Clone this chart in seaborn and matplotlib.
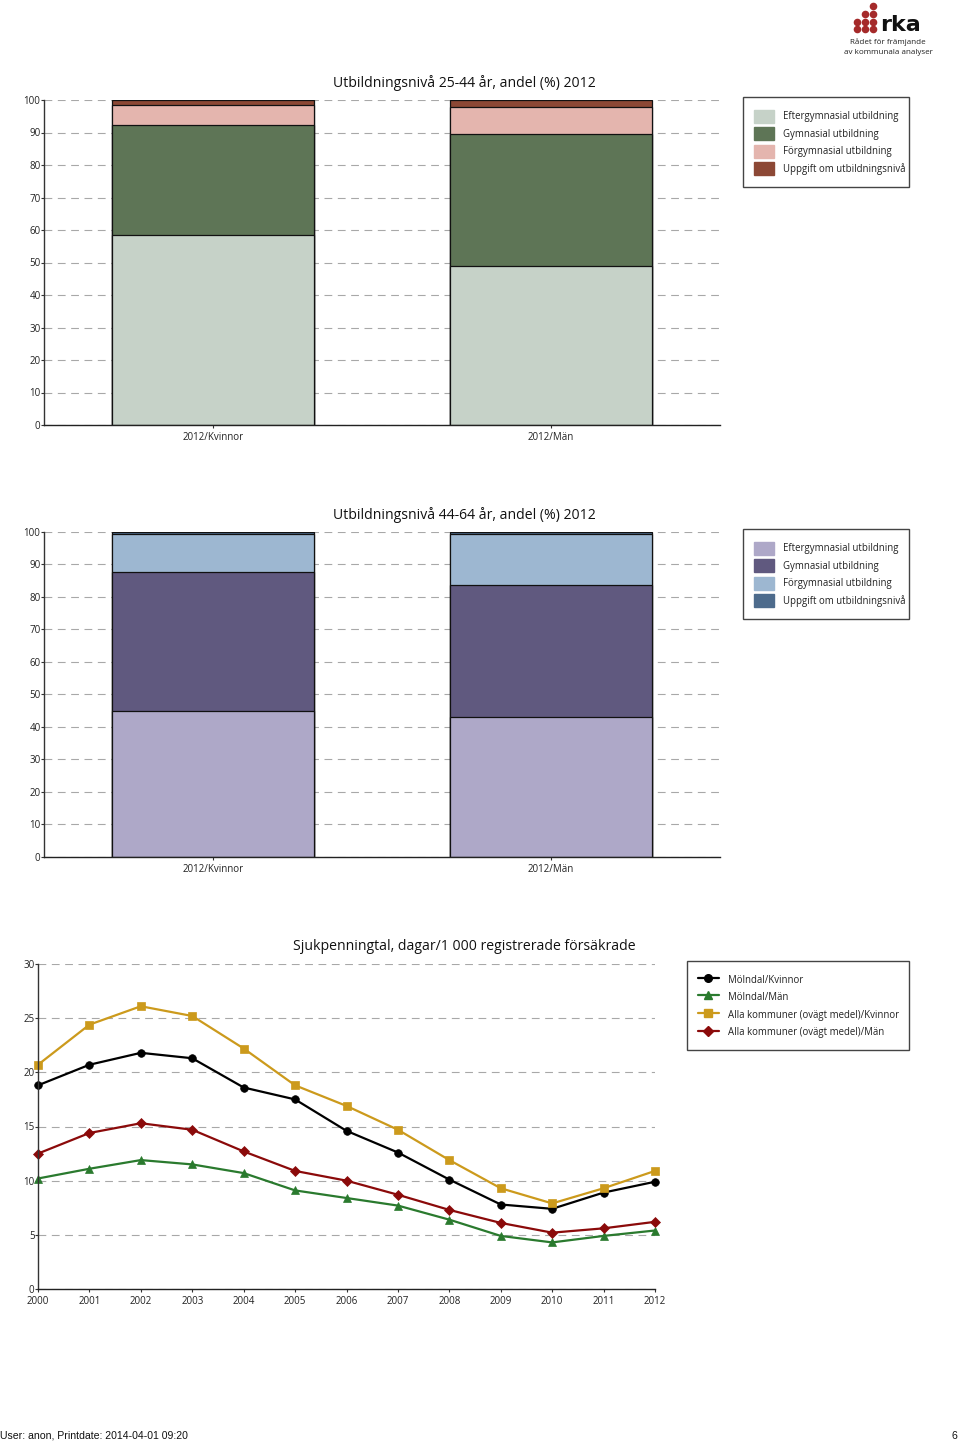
import matplotlib
matplotlib.use("Agg")
import matplotlib.pyplot as plt
from matplotlib.patches import Patch
from matplotlib.lines import Line2D
import seaborn as sns

W, H = 960, 1442

# Stacked bars, share in percent
bar_cats = ["2012/Kvinnor", "2012/Män"]
levels = ["Eftergymnasial utbildning", "Gymnasial utbildning",
          "Förgymnasial utbildning", "Uppgift om utbildningsnivå"]
young_eft = [58.5, 48.9]
young_gym = [33.8, 40.6]
young_forg = [6.1, 8.3]
young_upp = [1.6, 2.2]
old_eft = [44.9, 43.1]
old_gym = [42.8, 40.6]
old_forg = [11.8, 15.8]
old_upp = [0.5, 0.5]
young_colors = ["#c6d2c8", "#5e7556", "#e4b5ae", "#8c4835"]
old_colors = ["#aea8c8", "#60597f", "#9db7d1", "#4d6b8c"]

# Sick pay lines
years = list(range(2000, 2013))
line_names = ["Mölndal/Kvinnor", "Mölndal/Män",
              "Alla kommuner (ovägt medel)/Kvinnor", "Alla kommuner (ovägt medel)/Män"]
molndal_k = [18.8, 20.7, 21.8, 21.3, 18.6, 17.5, 14.6, 12.6, 10.1, 7.8, 7.4, 8.9, 9.9]
molndal_m = [10.2, 11.1, 11.9, 11.5, 10.7, 9.1, 8.4, 7.7, 6.4, 4.9, 4.3, 4.9, 5.4]
alla_k = [20.7, 24.4, 26.1, 25.2, 22.2, 18.8, 16.9, 14.7, 11.9, 9.3, 7.9, 9.3, 10.9]
alla_m = [12.5, 14.4, 15.3, 14.7, 12.7, 10.9, 10.0, 8.7, 7.3, 6.1, 5.2, 5.6, 6.2]
line_colors = ["#000000", "#2a7a2e", "#cc9a1c", "#8b0a0a"]
line_markers = ["o", "^", "s", "D"]
line_sizes = [5.5, 6, 5.5, 5]

sns.set_theme(style="white")
plt.rcParams["font.family"] = ["Open Sans", "DejaVu Sans"]
plt.rcParams["axes.edgecolor"] = "#333333"

fig = plt.figure(figsize=(W / 100, H / 100), dpi=100)


def px_axes(left, top, right, bottom):
    return fig.add_axes([left / W, 1 - bottom / H, (right - left) / W, (bottom - top) / H])


def px_text(x, y, s, **kw):
    kw.setdefault("va", "center")
    return fig.text(x / W, 1 - y / H, s, **kw)


def style_axes(ax, ymax, step):
    ax.set_ylim(0, ymax)
    ax.set_yticks(range(0, ymax + 1, step))
    ax.yaxis.grid(True, color="#a8a8a8", linewidth=0.8, linestyle=(0, (7, 5)))
    ax.xaxis.grid(False)
    ax.set_axisbelow(True)
    sns.despine(ax=ax)
    ax.spines["left"].set_linewidth(1)
    ax.spines["bottom"].set_linewidth(1)
    ax.spines["bottom"].set_color("#222222")
    ax.set_xlabel("")
    ax.set_ylabel("")
    ax.tick_params(axis="both", which="both", left=True, bottom=True, length=2,
                   width=0.8, color="#333333", labelsize=7, labelcolor="#222222", pad=0.5)
    ax.tick_params(axis="x", pad=3)


def legend_box(handles, labels, left, top, right, bottom, **kw):
    # frame is drawn by hand so it lands on the same pixels as the reference
    frame = plt.Rectangle((left / W, 1 - bottom / H), (right - left) / W, (bottom - top) / H,
                          transform=fig.transFigure, fill=False, edgecolor="#444444", linewidth=1)
    fig.add_artist(frame)
    fig.legend(handles, labels, loc="upper left",
               bbox_to_anchor=(left / W, 1 - (top + 1.5) / H), frameon=False,
               prop={"size": 6.9}, labelcolor="#222222", borderaxespad=0, **kw)


def stacked(ax, parts, colors):
    tops = []
    running = [0, 0]
    for part in parts:
        running = [r + p for r, p in zip(running, part)]
        tops.append(running)
    # tallest layer first so the lower ones paint over it
    for top, color in reversed(list(zip(tops, colors))):
        sns.barplot(x=bar_cats, y=top, color=color, saturation=1, width=0.6,
                    edgecolor="#111111", linewidth=0.9, ax=ax)
    style_axes(ax, 100, 10)


ax1 = px_axes(44, 100, 720, 425)
stacked(ax1, [young_eft, young_gym, young_forg, young_upp], young_colors)
px_text(464, 83, "Utbildningsnivå 25-44 år, andel (%) 2012", ha="center", fontsize=10.1, color="#111111")
legend_box([Patch(color=c) for c in young_colors], levels, 743, 97, 909, 187,
           handlelength=2.1, handleheight=1.75, handletextpad=0.95, labelspacing=0.45,
           borderpad=1.15)

ax2 = px_axes(44, 532, 720, 857)
stacked(ax2, [old_eft, old_gym, old_forg, old_upp], old_colors)
px_text(464, 515, "Utbildningsnivå 44-64 år, andel (%) 2012", ha="center", fontsize=10.1, color="#111111")
legend_box([Patch(color=c) for c in old_colors], levels, 743, 529, 909, 619,
           handlelength=2.1, handleheight=1.75, handletextpad=0.95, labelspacing=0.45,
           borderpad=1.15)

ax3 = px_axes(38, 964, 655, 1289)
line_series = [molndal_k, molndal_m, alla_k, alla_m]
for vals, name, color, marker, size in zip(line_series, line_names, line_colors, line_markers, line_sizes):
    sns.lineplot(x=years, y=vals, color=color, marker=marker, markersize=size,
                 markeredgecolor=color, markeredgewidth=0.5, linewidth=1.6,
                 clip_on=False, legend=False, ax=ax3)
ax3.set_xlim(2000, 2012)
ax3.set_xticks(years)
style_axes(ax3, 30, 5)
px_text(464, 947, "Sjukpenningtal, dagar/1 000 registrerade försäkrade", ha="center", fontsize=10.1, color="#111111")
line_handles = [Line2D([], [], color=c, marker=m, markersize=s, linewidth=1.6, markeredgecolor=c)
                for c, m, s in zip(line_colors, line_markers, line_sizes)]
legend_box(line_handles, line_names, 687, 961, 909, 1050,
           handlelength=2.2, handleheight=1.75, handletextpad=0.95, labelspacing=0.45, borderpad=1.1)

# Logo
logo = px_axes(850, 0, 935, 60)
logo.set_xlim(850, 935)
logo.set_ylim(60, 0)
logo.axis("off")
logo_col_x = [857, 865, 873]
logo_col_y = [[22, 29], [14, 22, 29], [6, 14, 22, 29]]
for cx, ys in zip(logo_col_x, logo_col_y):
    sns.scatterplot(x=[cx] * len(ys), y=ys, color="#a52a2a", s=30, linewidth=0, legend=False, ax=logo)
px_text(901, 25, "rka", ha="center", fontsize=16, fontweight="bold", color="#111111", family="DejaVu Sans")
px_text(888, 42, "Rådet för främjande", ha="center", fontsize=5.8, color="#222222")
px_text(888, 52, "av kommunala analyser", ha="center", fontsize=5.8, color="#222222")

# Footer
px_text(0, 1436, "User: anon, Printdate: 2014-04-01 09:20", ha="left", fontsize=7.6,
        color="#111111", family="Liberation Sans")
px_text(957, 1436, "6", ha="right", fontsize=7.6, color="#111111", family="Liberation Sans")

fig.savefig("out.png", dpi=100)
